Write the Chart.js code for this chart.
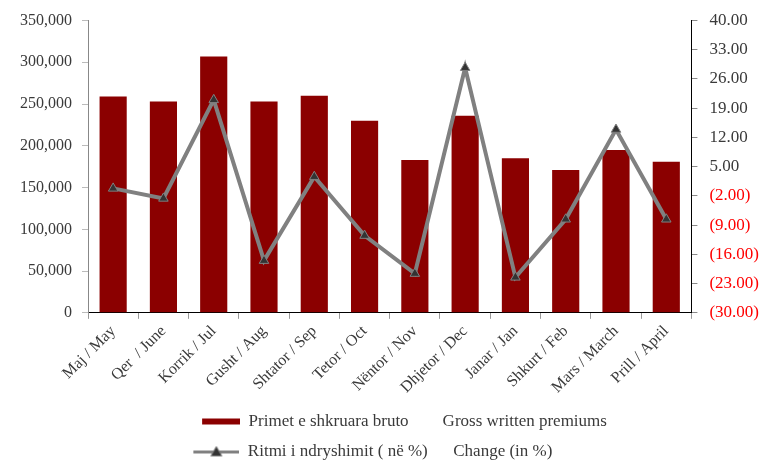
<!DOCTYPE html>
<html>
<head>
<meta charset="utf-8">
<script src="https://cdn.jsdelivr.net/npm/chart.js@4/dist/chart.umd.min.js"></script>
<style>
  html, body { margin: 0; padding: 0; background: #fff; }
  #wrap { width: 761px; height: 461px; }
</style>
</head>
<body>
<div id="wrap"><canvas id="c"></canvas></div>
<script>
/* Gross written premiums vs change (%) — monthly */

const MONTHS = ["Maj / May", "Qer  / June", "Korrik / Jul", "Gusht / Aug", "Shtator / Sep", "Tetor / Oct",
  "Nëntor / Nov", "Dhjetor / Dec", "Janar / Jan", "Shkurt / Feb", "Mars / March", "Prill / April"];
const PREMIUMS = [259000, 253000, 307000, 253000, 260000, 230000, 183000, 236000, 185000, 171000, 195000, 181000];
const CHANGE = [-0.2, -2.6, 21.0, -17.5, 2.6, -11.5, -20.6, 28.7, -21.5, -7.6, 13.9, -7.6];
const LEFT_TICKS = { min: 0, max: 350000, step: 50000 };
const RIGHT_TICKS = { min: -30, max: 40, step: 7 };

const BAR_LABEL = "Primet e shkruara bruto";
const BAR_LABEL_EN = "Gross written premiums";
const LINE_LABEL = "Ritmi i ndryshimit ( në %)";
const LINE_LABEL_EN = "Change (in %)";

const FONT = '"Liberation Serif", "Times New Roman", serif';
const FS = 16;
const LEG_FS = 17;
const TEXT = "#3a3a3a";
const BAR = "#8b0000";
const LINE = "#808080";
const ICON_W = 66; // legend icon box; the drawing sits on its right end, nudging the legend right

/* ---------- legend icons ---------- */
function barIcon() {
  const c = document.createElement("canvas");
  c.width = ICON_W; c.height = 12;
  const g = c.getContext("2d");
  g.fillStyle = BAR;
  g.fillRect(ICON_W - 38, 3, 38, 6);
  return c;
}
function lineIcon() {
  const c = document.createElement("canvas");
  c.width = ICON_W; c.height = 12;
  const g = c.getContext("2d");
  const x0 = ICON_W - 46;
  g.strokeStyle = LINE; g.lineWidth = 3;
  g.beginPath(); g.moveTo(x0, 6.5); g.lineTo(ICON_W, 6.5); g.stroke();
  g.fillStyle = "#333"; g.strokeStyle = LINE; g.lineWidth = 1;
  g.beginPath(); g.moveTo(x0 + 23, 1); g.lineTo(x0 + 28.5, 10.5); g.lineTo(x0 + 17.5, 10.5); g.closePath();
  g.fill(); g.stroke();
  return c;
}

// pad both legend rows to the same width so they line up on the left
function legendTexts() {
  const g = document.createElement("canvas").getContext("2d");
  g.font = LEG_FS + "px " + FONT;
  const t1 = BAR_LABEL + " ".repeat(8) + BAR_LABEL_EN;
  let t2 = LINE_LABEL + " ".repeat(6) + LINE_LABEL_EN;
  const w1 = g.measureText(t1).width;
  while (g.measureText(t2 + " ").width <= w1 + 2) t2 += " ";
  return [t1, t2];
}
const [LEG1, LEG2] = legendTexts();
const ICONS = [barIcon(), lineIcon()];

/* ---------- chart ---------- */
new Chart(document.getElementById("c"), {
  data: {
    labels: MONTHS,
    datasets: [
      {
        type: "bar", label: LEG1, data: PREMIUMS, yAxisID: "y",
        backgroundColor: BAR, borderWidth: 0,
        barPercentage: 0.54, categoryPercentage: 1, order: 2,
      },
      {
        type: "line", label: LEG2, data: CHANGE, yAxisID: "y1",
        borderColor: LINE, borderWidth: 4, tension: 0,
        pointStyle: "triangle", pointRadius: 5.5, pointBackgroundColor: "#333",
        pointBorderColor: LINE, pointBorderWidth: 1, order: 1,
      },
    ],
  },
  options: {
    responsive: true, maintainAspectRatio: false, animation: false,
    layout: { padding: { left: 10, right: -10, top: 9, bottom: -9 } },
    plugins: {
      tooltip: { enabled: false },
      legend: {
        position: "bottom",
        labels: {
          font: { family: FONT, size: LEG_FS }, color: TEXT,
          usePointStyle: true, pointStyleWidth: ICON_W, boxHeight: 12, padding: 13,
          generateLabels: (chart) => chart.data.datasets.map((d, i) => ({
            text: d.label, pointStyle: ICONS[i], datasetIndex: i,
            fillStyle: "transparent", strokeStyle: "transparent", lineWidth: 0, fontColor: TEXT,
          })),
        },
      },
    },
    scales: {
      x: {
        grid: { display: true, drawOnChartArea: false, color: "#999", tickLength: 6, offset: true },
        border: { color: "#000" },
        ticks: { font: { family: FONT, size: FS }, color: TEXT, minRotation: 45, maxRotation: 45, autoSkip: false },
      },
      y: {
        position: "left",
        min: LEFT_TICKS.min, max: LEFT_TICKS.max,
        grid: { drawOnChartArea: false, color: "#bbb", tickLength: 6 },
        border: { color: "#888" },
        ticks: {
          stepSize: LEFT_TICKS.step, font: { family: FONT, size: FS, lineHeight: 1 }, color: TEXT, padding: 10,
          callback: (v) => v.toLocaleString("en-US"),
        },
      },
      y1: {
        position: "right",
        min: RIGHT_TICKS.min, max: RIGHT_TICKS.max,
        grid: { drawOnChartArea: false, color: "#888", tickLength: 6 },
        border: { color: "#000" },
        ticks: {
          stepSize: RIGHT_TICKS.step, font: { family: FONT, size: 17, lineHeight: 1 }, padding: 12,
          color: (ctx) => (ctx.tick && ctx.tick.value < 0 ? "#ff0000" : TEXT),
          callback: (v) => (v < 0 ? "(" + Math.abs(v).toFixed(2) + ")" : v.toFixed(2)),
        },
      },
    },
  },
});
</script>
</body>
</html>
